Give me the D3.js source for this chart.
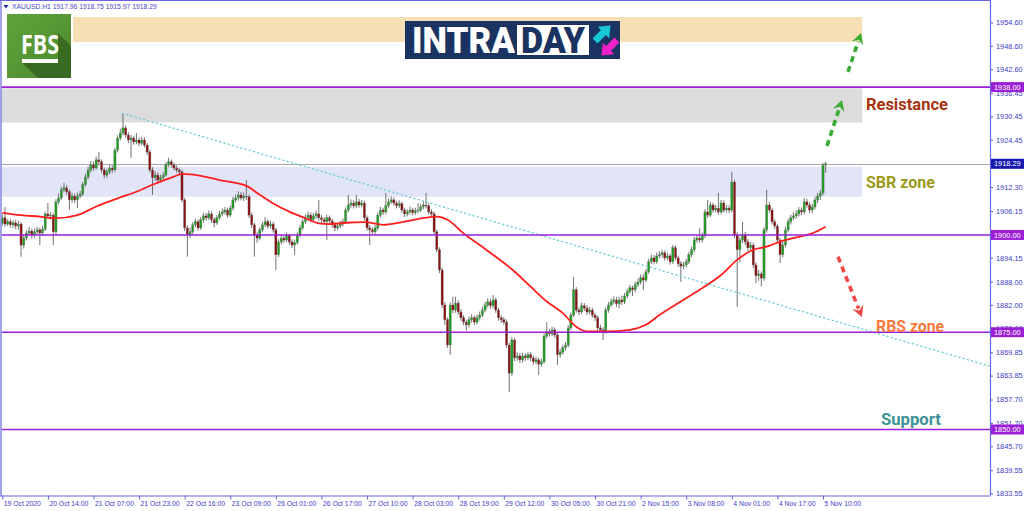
<!DOCTYPE html>
<html><head><meta charset="utf-8">
<script src="https://cdn.jsdelivr.net/npm/d3@7"></script>
<style>
html,body{margin:0;padding:0;background:#fff;}
svg{display:block;}
</style></head><body>
<svg id="chart" width="1024" height="511"></svg>
<script>
// ---------------- DATA (XAUUSD H1) ----------------
const opens=[1903.0,1904.4,1902.8,1903.4,1902.6,1903.1,1902.3,1902.8,1897.4,1899.2,
1900.5,1901.0,1900.0,1900.8,1901.3,1900.5,1901.5,1905.4,1904.9,1905.1,
1900.8,1908.5,1909.5,1911.6,1912.1,1911.1,1909.0,1910.0,1909.0,1910.0,
1910.5,1912.9,1914.9,1916.7,1918.0,1917.2,1919.3,1918.8,1916.7,1915.4,
1916.2,1917.2,1916.7,1921.8,1924.9,1926.2,1927.5,1925.7,1924.4,1924.9,
1923.9,1924.4,1923.6,1924.4,1923.1,1921.3,1916.7,1914.7,1915.4,1914.1,
1914.7,1915.4,1918.0,1918.8,1918.0,1917.2,1916.7,1916.2,1909.0,1901.8,
1900.0,1900.8,1902.6,1903.4,1901.8,1903.9,1904.9,1904.4,1905.4,1903.9,
1903.1,1904.4,1905.4,1905.9,1906.4,1905.1,1906.9,1909.0,1909.5,1910.3,
1909.5,1910.0,1909.8,1905.1,1902.6,1900.0,1899.2,1901.3,1902.6,1903.4,
1902.3,1902.8,1901.3,1894.9,1898.2,1899.2,1898.7,1899.8,1898.2,1897.4,
1898.0,1900.0,1901.8,1903.4,1904.4,1905.1,1903.9,1904.9,1905.4,1904.4,
1903.9,1903.4,1904.4,1903.6,1902.6,1901.8,1902.3,1902.8,1903.4,1906.4,
1907.7,1908.2,1907.5,1908.5,1907.7,1908.2,1904.4,1901.8,1901.3,1900.8,
1901.8,1905.1,1906.4,1905.9,1907.5,1908.5,1909.0,1908.2,1907.5,1908.0,
1906.4,1905.4,1905.9,1906.4,1905.7,1906.2,1906.4,1907.2,1907.7,1907.5,
1905.9,1905.4,1900.8,1896.2,1891.0,1882.0,1878.2,1871.7,1882.0,1880.7,
1882.5,1880.2,1878.7,1877.6,1876.9,1878.2,1878.7,1877.6,1878.7,1879.4,
1880.7,1882.0,1882.8,1881.8,1883.3,1880.7,1878.7,1878.2,1877.6,1871.7,
1864.5,1873.0,1868.4,1868.9,1867.9,1868.9,1868.4,1869.2,1868.4,1867.4,
1867.9,1866.8,1867.4,1874.0,1875.1,1874.6,1875.6,1874.3,1869.2,1869.9,
1871.0,1871.7,1876.1,1879.4,1885.9,1880.7,1880.2,1881.8,1881.2,1880.2,
1880.7,1879.4,1878.7,1876.1,1875.6,1875.1,1880.7,1882.0,1882.8,1883.3,
1882.3,1883.3,1882.8,1884.3,1885.4,1886.4,1885.9,1887.2,1887.9,1889.0,
1888.4,1890.5,1893.1,1894.1,1893.1,1894.6,1894.9,1895.4,1894.1,1894.6,
1893.1,1896.7,1894.1,1892.6,1892.0,1892.3,1893.1,1894.9,1896.2,1898.7,
1899.2,1898.7,1899.8,1905.9,1905.1,1907.7,1906.4,1906.9,1905.9,1908.2,
1906.4,1906.9,1906.4,1913.6,1900.0,1896.2,1898.7,1900.0,1898.2,1896.7,
1897.4,1892.3,1889.5,1890.0,1888.9,1901.3,1907.7,1906.4,1903.4,1902.3,
1898.7,1894.9,1897.4,1901.3,1903.4,1904.4,1904.9,1905.4,1906.4,1905.9,
1908.5,1907.7,1906.4,1907.2,1909.0,1910.0,1910.8,1917.96];

const highs=[1905.3,1907.2,1904.0,1904.1,1903.8,1903.9,1903.6,1903.3,1900.0,1901.2,
1902.0,1901.6,1901.7,1902.1,1901.9,1902.4,1906.0,1908.2,1905.9,1905.6,
1909.2,1910.6,1912.4,1913.4,1912.8,1911.7,1910.8,1910.6,1910.9,1911.3,
1913.6,1915.7,1917.6,1919.0,1918.9,1920.2,1921.3,1919.4,1917.3,1917.0,
1918.0,1917.9,1922.4,1925.6,1927.3,1931.3,1928.1,1926.4,1925.7,1925.5,
1926.2,1925.0,1925.2,1925.1,1923.6,1921.9,1917.4,1916.3,1916.0,1915.5,
1916.2,1918.7,1919.8,1919.4,1918.6,1917.9,1917.3,1916.8,1909.5,1902.5,
1901.9,1903.3,1904.2,1904.0,1904.6,1905.7,1905.6,1906.3,1906.0,1904.5,
1905.1,1906.2,1906.8,1907.2,1907.0,1907.6,1909.8,1910.4,1911.2,1911.0,
1910.9,1914.1,1910.4,1905.7,1903.1,1900.7,1902.0,1903.4,1904.6,1904.0,
1903.7,1903.4,1901.8,1898.9,1900.0,1899.9,1900.6,1900.3,1898.9,1898.8,
1900.7,1902.6,1904.1,1905.3,1906.0,1905.8,1905.7,1906.3,1909.0,1905.1,
1904.6,1905.2,1905.0,1904.2,1903.3,1903.1,1903.6,1904.2,1907.1,1910.3,
1909.1,1908.9,1910.3,1909.2,1909.0,1908.8,1905.0,1902.5,1902.0,1902.6,
1905.8,1907.2,1907.0,1910.8,1909.3,1909.9,1909.7,1908.8,1908.9,1908.6,
1907.0,1906.7,1907.3,1907.0,1907.0,1908.2,1908.0,1908.6,1910.8,1908.1,
1906.6,1906.0,1901.4,1896.8,1891.6,1882.7,1878.8,1882.7,1884.1,1884.1,
1883.2,1880.9,1879.4,1878.2,1879.0,1879.6,1879.3,1879.5,1880.3,1881.5,
1882.8,1883.7,1883.6,1884.6,1883.9,1881.3,1879.4,1878.9,1878.3,1872.3,
1873.8,1873.6,1869.8,1869.6,1869.7,1869.6,1870.0,1869.9,1869.0,1868.7,
1868.5,1868.2,1874.7,1877.6,1875.9,1876.4,1876.2,1874.9,1870.7,1871.8,
1872.5,1876.8,1880.1,1889.2,1886.6,1881.4,1882.6,1882.5,1881.9,1881.5,
1881.3,1880.0,1879.3,1876.9,1876.3,1881.4,1882.8,1883.7,1884.2,1884.0,
1884.1,1884.4,1885.1,1886.2,1887.2,1887.0,1888.0,1888.8,1889.8,1889.9,
1891.3,1893.9,1894.9,1894.8,1895.5,1895.8,1896.2,1896.0,1895.4,1895.2,
1897.4,1897.3,1894.7,1893.3,1893.1,1893.9,1895.7,1897.0,1899.5,1900.0,
1901.8,1900.6,1906.6,1909.0,1908.5,1908.3,1907.7,1910.8,1909.0,1908.9,
1907.7,1907.6,1916.2,1914.2,1900.7,1899.5,1903.4,1900.8,1898.9,1898.2,
1898.0,1893.0,1891.0,1890.6,1902.0,1911.6,1908.5,1907.0,1904.0,1902.9,
1899.3,1898.2,1902.0,1904.2,1905.2,1905.8,1906.3,1907.2,1907.1,1909.5,
1909.3,1908.3,1908.0,1909.8,1910.8,1911.6,1918.5,1918.75];

const lows=[1902.4,1902.1,1902.3,1901.9,1901.8,1901.5,1901.4,1894.4,1896.5,1898.6,
1899.8,1899.1,1899.3,1900.0,1897.4,1899.9,1901.0,1904.2,1904.0,1897.4,
1900.2,1907.8,1909.0,1911.0,1910.3,1906.4,1908.3,1908.2,1906.9,1909.4,
1910.0,1912.4,1914.3,1916.0,1916.5,1916.8,1917.9,1916.0,1914.5,1914.7,
1915.6,1915.9,1916.2,1921.2,1924.3,1925.6,1925.0,1923.6,1919.8,1923.2,
1923.3,1922.8,1923.0,1922.5,1920.6,1916.0,1910.3,1913.9,1913.3,1913.4,
1914.0,1915.0,1917.4,1917.3,1916.6,1916.0,1915.5,1908.4,1901.0,1894.4,
1899.2,1900.2,1902.0,1901.1,1901.3,1903.2,1903.7,1903.8,1903.1,1902.0,
1902.6,1903.9,1904.8,1905.3,1904.4,1904.6,1906.3,1908.4,1908.8,1908.9,
1908.7,1909.0,1904.4,1901.8,1894.4,1898.0,1898.6,1900.7,1902.0,1901.6,
1901.7,1900.6,1891.0,1894.3,1897.6,1897.9,1898.1,1897.5,1896.6,1894.9,
1897.5,1899.4,1901.2,1902.8,1903.8,1903.2,1903.3,1904.2,1903.7,1903.1,
1902.7,1898.7,1902.9,1901.9,1901.0,1901.2,1901.7,1902.2,1902.9,1905.8,
1907.0,1906.8,1906.9,1907.0,1907.1,1903.7,1901.1,1897.4,1900.0,1900.1,
1901.2,1904.5,1905.2,1905.3,1906.9,1908.0,1907.5,1906.8,1906.9,1905.7,
1904.6,1904.8,1905.2,1905.0,1905.1,1905.5,1905.8,1906.6,1906.8,1905.2,
1904.7,1900.1,1895.5,1890.2,1881.2,1876.9,1871.0,1869.2,1879.9,1880.0,
1879.5,1877.9,1876.8,1875.4,1876.2,1877.5,1876.9,1877.0,1878.0,1878.9,
1880.1,1881.4,1881.0,1881.2,1880.0,1878.0,1877.4,1876.9,1871.0,1859.7,
1863.8,1867.6,1867.7,1867.1,1867.2,1867.6,1867.8,1867.6,1866.6,1866.8,
1864.0,1866.1,1866.9,1873.4,1873.9,1874.0,1873.6,1866.6,1868.5,1869.3,
1870.3,1871.1,1875.5,1878.9,1880.0,1879.4,1879.6,1880.5,1879.5,1879.6,
1878.7,1877.9,1875.4,1874.8,1873.0,1874.6,1880.0,1881.4,1882.1,1881.5,
1881.2,1882.0,1882.2,1883.7,1884.9,1884.3,1885.3,1886.6,1887.3,1885.9,
1887.8,1890.0,1892.5,1892.4,1892.6,1893.9,1894.2,1893.4,1893.5,1892.4,
1892.6,1893.4,1891.8,1887.9,1891.2,1891.6,1892.5,1894.3,1895.6,1898.0,
1898.0,1898.1,1899.2,1904.4,1904.6,1905.7,1905.8,1905.2,1905.3,1905.7,
1905.8,1905.6,1905.8,1899.2,1881.5,1893.0,1897.9,1897.4,1895.9,1895.7,
1891.5,1887.6,1888.2,1886.8,1888.2,1900.6,1905.7,1902.7,1901.5,1897.9,
1892.8,1894.2,1896.8,1900.7,1902.7,1903.8,1904.2,1904.7,1905.1,1905.3,
1907.0,1905.7,1905.6,1906.6,1908.2,1909.0,1910.2,1915.97];

const closes=[1904.4,1902.8,1903.4,1902.6,1903.1,1902.3,1902.8,1897.4,1899.2,1900.5,
1901.0,1900.0,1900.8,1901.3,1900.5,1901.5,1905.4,1904.9,1905.1,1900.8,
1908.5,1909.5,1911.6,1912.1,1911.1,1909.0,1910.0,1909.0,1910.0,1910.5,
1912.9,1914.9,1916.7,1918.0,1917.2,1919.3,1918.8,1916.7,1915.4,1916.2,
1917.2,1916.7,1921.8,1924.9,1926.2,1927.5,1925.7,1924.4,1924.9,1923.9,
1924.4,1923.6,1924.4,1923.1,1921.3,1916.7,1914.7,1915.4,1914.1,1914.7,
1915.4,1918.0,1918.8,1918.0,1917.2,1916.7,1916.2,1909.0,1901.8,1900.0,
1900.8,1902.6,1903.4,1901.8,1903.9,1904.9,1904.4,1905.4,1903.9,1903.1,
1904.4,1905.4,1905.9,1906.4,1905.1,1906.9,1909.0,1909.5,1910.3,1909.5,
1910.0,1909.8,1905.1,1902.6,1900.0,1899.2,1901.3,1902.6,1903.4,1902.3,
1902.8,1901.3,1894.9,1898.2,1899.2,1898.7,1899.8,1898.2,1897.4,1898.0,
1900.0,1901.8,1903.4,1904.4,1905.1,1903.9,1904.9,1905.4,1904.4,1903.9,
1903.4,1904.4,1903.6,1902.6,1901.8,1902.3,1902.8,1903.4,1906.4,1907.7,
1908.2,1907.5,1908.5,1907.7,1908.2,1904.4,1901.8,1901.3,1900.8,1901.8,
1905.1,1906.4,1905.9,1907.5,1908.5,1909.0,1908.2,1907.5,1908.0,1906.4,
1905.4,1905.9,1906.4,1905.7,1906.2,1906.4,1907.2,1907.7,1907.5,1905.9,
1905.4,1900.8,1896.2,1891.0,1882.0,1878.2,1871.7,1882.0,1880.7,1882.5,
1880.2,1878.7,1877.6,1876.9,1878.2,1878.7,1877.6,1878.7,1879.4,1880.7,
1882.0,1882.8,1881.8,1883.3,1880.7,1878.7,1878.2,1877.6,1871.7,1864.5,
1873.0,1868.4,1868.9,1867.9,1868.9,1868.4,1869.2,1868.4,1867.4,1867.9,
1866.8,1867.4,1874.0,1875.1,1874.6,1875.6,1874.3,1869.2,1869.9,1871.0,
1871.7,1876.1,1879.4,1885.9,1880.7,1880.2,1881.8,1881.2,1880.2,1880.7,
1879.4,1878.7,1876.1,1875.6,1875.1,1880.7,1882.0,1882.8,1883.3,1882.3,
1883.3,1882.8,1884.3,1885.4,1886.4,1885.9,1887.2,1887.9,1889.0,1888.4,
1890.5,1893.1,1894.1,1893.1,1894.6,1894.9,1895.4,1894.1,1894.6,1893.1,
1896.7,1894.1,1892.6,1892.0,1892.3,1893.1,1894.9,1896.2,1898.7,1899.2,
1898.7,1899.8,1905.9,1905.1,1907.7,1906.4,1906.9,1905.9,1908.2,1906.4,
1906.9,1906.4,1913.6,1900.0,1896.2,1898.7,1900.0,1898.2,1896.7,1897.4,
1892.3,1889.5,1890.0,1888.9,1901.3,1907.7,1906.4,1903.4,1902.3,1898.7,
1894.9,1897.4,1901.3,1903.4,1904.4,1904.9,1905.4,1906.4,1905.9,1908.5,
1907.7,1906.4,1907.2,1909.0,1910.0,1910.8,1917.96,1918.29];

// moving average, bar index + value
const maIdx=[0,7,14,20,28,35,43,50,56,64,67,74,81,91,96,101,107,113,118,122,130,135,142,149,157,162,166,172,178,184,191,197,203,209,214,218,225,234,240,245,253,260,268,274,280,285,290,296,302,307];
const maVal=[1905.7,1905.1,1904.7,1904.3,1905.1,1907.3,1909.4,1911.1,1912.9,1915.0,1915.7,1915.2,1914.1,1912.6,1910.3,1908.1,1906.0,1904.3,1903.0,1902.8,1903.2,1903.3,1902.6,1903.3,1904.3,1904.7,1903.9,1900.4,1897.4,1894.4,1890.6,1886.7,1882.9,1879.9,1876.4,1875.2,1875.2,1875.6,1876.9,1879.4,1882.9,1885.9,1889.7,1893.6,1896.2,1897.0,1898.3,1899.4,1900.4,1902.1];

// time axis labels (every 17 bars)
const timeLabels=["19 Oct 2020","20 Oct 14:00","21 Oct 07:00","21 Oct 23:00","22 Oct 16:00","23 Oct 09:00","26 Oct 01:00","26 Oct 17:00","27 Oct 10:00","28 Oct 03:00","28 Oct 19:00","29 Oct 12:00","30 Oct 05:00","30 Oct 21:00","2 Nov 15:00","3 Nov 08:00","4 Nov 01:00","4 Nov 17:00","5 Nov 10:00"];
const timeLabelIdx=[0,17,34,51,68,85,102,119,136,153,170,187,204,221,238,255,272,289,306];

// price axis ticks
const priceTicks=[1954.60,1948.60,1942.60,1936.45,1930.45,1924.45,1918.30,1912.30,1906.15,1900.15,1894.15,1888.00,1882.00,1876.00,1869.85,1863.85,1857.70,1851.70,1845.70,1839.55,1833.55];

// horizontal levels
const levelPrices=[1938.00,1900.00,1875.00,1850.00];
const bidPrice=1918.29;

// zones (bar index from/to, price top/bottom)
const zoneFrom=[26.4,-3,-3];
const zoneTo=[320.6,320.6,320.6];
const zoneTop=[1956.0,1937.7,1917.5];
const zoneBottom=[1949.6,1928.9,1909.8];
const zoneColors=["#f6dfb5","#dcdcdc","#e2e4f8"];

// trend line
const trendIdx=[44.6,368];
const trendVal=[1931.3,1866.3];

// annotation labels
const noteTexts=["Resistance","SBR zone","RBS zone","Support"];
const noteIdx=[322.0,322.0,325.8,327.6];
const noteVal=[1933.7,1913.6,1876.6,1852.7];
const noteColors=["#a8330f","#9c9a17","#fb7a3a","#3e9295"];
const noteWidths=[82,69,68,60];

// dashed arrows
const arrowFromIdx=[307.5,315.3,311.6];
const arrowFromVal=[1922.9,1941.9,1894.4];
const arrowToIdx=[313.1,320.2,320.5];
const arrowToVal=[1934.7,1951.9,1878.9];
const arrowColors=["#3aad35","#3aad35","#f04848"];

// ---------------- DRAW ----------------
const svg=d3.select("#chart");
svg.append("rect").attr("width",1024).attr("height",511).attr("fill","#fff");

const plotL=1.5, plotR=990, plotT=1, plotB=495.5;
const x=d3.scaleLinear().domain([0,306]).range([2.3,823]);
const y=d3.scaleLinear().domain([1833.55,1954.60]).range([493.5,22.5]);

const defs=svg.append("defs");
defs.append("clipPath").attr("id","plotclip")
  .append("rect").attr("x",plotL).attr("y",plotT).attr("width",plotR-plotL).attr("height",plotB-plotT);
const plot=svg.append("g").attr("clip-path","url(#plotclip)");

// zones
plot.selectAll("rect.zone").data(d3.range(zoneFrom.length)).join("rect")
  .attr("class","zone")
  .attr("x",d=>x(zoneFrom[d])).attr("width",d=>x(zoneTo[d])-x(zoneFrom[d]))
  .attr("y",d=>y(zoneTop[d])).attr("height",d=>y(zoneBottom[d])-y(zoneTop[d]))
  .attr("fill",d=>zoneColors[d]);

// bid line
plot.append("line").attr("x1",plotL).attr("x2",plotR)
  .attr("y1",Math.round(y(bidPrice))+0.5).attr("y2",Math.round(y(bidPrice))+0.5)
  .attr("stroke","#a8a8a8").attr("stroke-width",1);

// candles
const bars=d3.range(closes.length).map(i=>({i,o:opens[i],h:highs[i],l:lows[i],c:closes[i]}));
const cg=plot.append("g");
cg.selectAll("line.wick").data(bars).join("line").attr("class","wick")
  .attr("x1",d=>x(d.i)).attr("x2",d=>x(d.i))
  .attr("y1",d=>y(Math.max(d.h,d.o,d.c))).attr("y2",d=>y(Math.min(d.l,d.o,d.c)))
  .attr("stroke","#626262").attr("stroke-width",0.9);
cg.selectAll("rect.body").data(bars).join("rect").attr("class","body")
  .attr("x",d=>x(d.i)-1.1).attr("width",2.2)
  .attr("y",d=>y(Math.max(d.o,d.c)))
  .attr("height",d=>Math.max(0.8,Math.abs(y(d.o)-y(d.c))))
  .attr("fill",d=>d.c>=d.o?"#1e9e1e":"#8a0f0f")
  .attr("stroke","#707070").attr("stroke-width",0.35);

// moving average
plot.append("path").datum(d3.range(maIdx.length))
  .attr("d",d3.line().x(d=>x(maIdx[d])).y(d=>y(maVal[d])).curve(d3.curveMonotoneX))
  .attr("fill","none").attr("stroke","#ff1f1f").attr("stroke-width",1.8);

// trend line
plot.append("line")
  .attr("x1",x(trendIdx[0])).attr("y1",y(trendVal[0]))
  .attr("x2",x(trendIdx[1])).attr("y2",y(trendVal[1]))
  .attr("stroke","#6ccbd3").attr("stroke-width",1.3).attr("stroke-dasharray","2.2,2.2");

// levels
plot.selectAll("line.level").data(levelPrices).join("line").attr("class","level")
  .attr("x1",plotL).attr("x2",plotR)
  .attr("y1",d=>y(d)).attr("y2",d=>y(d))
  .attr("stroke","#9b1fd6").attr("stroke-width",1.6);

// dashed arrows
const ag=svg.append("g");
d3.range(arrowFromIdx.length).forEach(k=>{
  const x1=x(arrowFromIdx[k]), y1=y(arrowFromVal[k]), x2=x(arrowToIdx[k]), y2=y(arrowToVal[k]);
  const ang=Math.atan2(y2-y1,x2-x1);
  const headL=11, headW=6;
  const bx=x2-Math.cos(ang)*headL, by=y2-Math.sin(ang)*headL;
  ag.append("line").attr("x1",x1).attr("y1",y1).attr("x2",bx+Math.cos(ang)*2).attr("y2",by+Math.sin(ang)*2)
    .attr("stroke",arrowColors[k]).attr("stroke-width",3.6).attr("stroke-dasharray","6,4.5");
  const px=-Math.sin(ang), py=Math.cos(ang);
  const nx=x2-Math.cos(ang)*headL*0.65, ny=y2-Math.sin(ang)*headL*0.65;
  const pts=[[x2,y2],[bx+px*headW,by+py*headW],[nx,ny],[bx-px*headW,by-py*headW]];
  ag.append("path").attr("d","M"+pts.map(p=>p.join(",")).join("L")+"Z").attr("fill",arrowColors[k]);
});

// annotation labels
svg.selectAll("text.note").data(d3.range(noteTexts.length)).join("text").attr("class","note")
  .attr("x",d=>x(noteIdx[d])).attr("y",d=>y(noteVal[d])).attr("dy","0.36em")
  .attr("fill",d=>noteColors[d])
  .attr("font-family","Roboto, 'Open Sans', sans-serif").attr("font-weight","bold").attr("font-size",16)
  .attr("textLength",d=>noteWidths[d]).attr("lengthAdjust","spacingAndGlyphs")
  .text(d=>noteTexts[d]);

// frame
const frameColor="#6464dc";
svg.append("line").attr("x1",1).attr("x2",1).attr("y1",0).attr("y2",plotB).attr("stroke",frameColor).attr("stroke-width",1.2);
svg.append("line").attr("x1",0).attr("x2",plotR).attr("y1",0.5).attr("y2",0.5).attr("stroke",frameColor).attr("stroke-width",1);

// right axis
const axisFont="'Liberation Sans', Arial, sans-serif";
const ra=svg.append("g").attr("transform",`translate(${plotR},0)`)
  .call(d3.axisRight(y).tickValues(priceTicks).tickFormat(d3.format(".2f")).tickSize(3).tickPadding(3));
ra.select(".domain").attr("d",`M0.5,0V${plotB}`).attr("stroke",frameColor).attr("stroke-width",1.2);
ra.selectAll(".tick line").attr("stroke",frameColor);
ra.selectAll(".tick text").attr("fill","#3c3cc8").attr("font-family",axisFont).attr("font-size",7.4);

// bottom axis
const ba=svg.append("g").attr("transform",`translate(0,${plotB})`)
  .call(d3.axisBottom(x).tickValues(timeLabelIdx).tickFormat((d,i)=>timeLabels[i]).tickSize(4).tickPadding(2));
ba.select(".domain").attr("d",`M0,0.5H${plotR+0.5}`).attr("stroke",frameColor).attr("stroke-width",1.2);
ba.selectAll(".tick line").attr("stroke",frameColor);
ba.selectAll(".tick text").attr("fill","#3c3cc8").attr("font-family",axisFont).attr("font-size",6.8)
  .attr("text-anchor","start").attr("x",1).attr("y",4).attr("dy","0.9em");

// price boxes
const boxPrices=[1938.00,1900.00,1875.00,1850.00,bidPrice];
const boxColors=["#9b1fd6","#9b1fd6","#9b1fd6","#9b1fd6","#1818b0"];
const bg=svg.append("g");
boxPrices.forEach((p,k)=>{
  const yy=y(p);
  bg.append("rect").attr("x",plotR+1).attr("y",yy-5).attr("width",33).attr("height",10).attr("fill",boxColors[k]);
  bg.append("text").attr("x",plotR+4).attr("y",yy).attr("dy","0.35em").attr("fill","#fff")
    .attr("font-family",axisFont).attr("font-size",7.4).text(d3.format(".2f")(p));
});

// header
svg.append("path").attr("d","M3.5,5 L8.5,5 L6,8.5 Z").attr("fill","#2a2aa0");
svg.append("text").attr("x",12).attr("y",7).attr("dy","0.35em").attr("fill","#4646c8")
  .attr("font-family",axisFont).attr("font-size",6.8)
  .text("XAUUSD.H1  1917.96 1918.75 1915.97 1918.29");

// FBS logo
const fbs=svg.append("g");
const grad=defs.append("linearGradient").attr("id","fbsg").attr("x1","0").attr("y1","0").attr("x2","1").attr("y2","1");
grad.append("stop").attr("offset","0").attr("stop-color","#62a23c");
grad.append("stop").attr("offset","1").attr("stop-color","#4a8a2c");
fbs.append("rect").attr("x",7).attr("y",14).attr("width",64).attr("height",64).attr("fill","url(#fbsg)");
fbs.append("path").attr("d","M58,33 L71,46 L71,78 L38,78 L22,63 L58,63 Z").attr("fill","#3a6b22");
fbs.append("text").attr("x",21).attr("y",54).attr("fill","#fff")
  .attr("font-family","'Open Sans', Roboto, sans-serif").attr("font-weight","bold").attr("font-size",27)
  .attr("textLength",38).attr("lengthAdjust","spacingAndGlyphs").text("FBS");
fbs.append("rect").attr("x",22).attr("y",59).attr("width",36).attr("height",4).attr("fill","#fff");

// INTRADAY logo
const it=svg.append("g");
it.append("rect").attr("x",405).attr("y",21).attr("width",215).attr("height",38).attr("fill","#1b3361");
it.append("text").attr("x",412).attr("y",53).attr("fill","#fff")
  .attr("font-family","Roboto, 'Open Sans', sans-serif").attr("font-weight",900).attr("font-size",36)
  .attr("textLength",103).attr("lengthAdjust","spacingAndGlyphs").text("INTRA");
it.append("rect").attr("x",517).attr("y",25).attr("width",72).attr("height",30).attr("fill","#fff");
it.append("text").attr("x",521).attr("y",53).attr("fill","#1b3361")
  .attr("font-family","Roboto, 'Open Sans', sans-serif").attr("font-weight",900).attr("font-size",36)
  .attr("textLength",64).attr("lengthAdjust","spacingAndGlyphs").text("DAY");
const arrowShape="M0,-3.5 L12,-3.5 L12,-8 L22,0 L12,8 L12,3.5 L0,3.5 Z";
it.append("path").attr("d",arrowShape).attr("fill","#18c7d6").attr("transform","translate(595,41) rotate(-45)");
it.append("path").attr("d",arrowShape).attr("fill","#f021c8").attr("transform","translate(617,40) rotate(135)");
</script>
</body></html>
